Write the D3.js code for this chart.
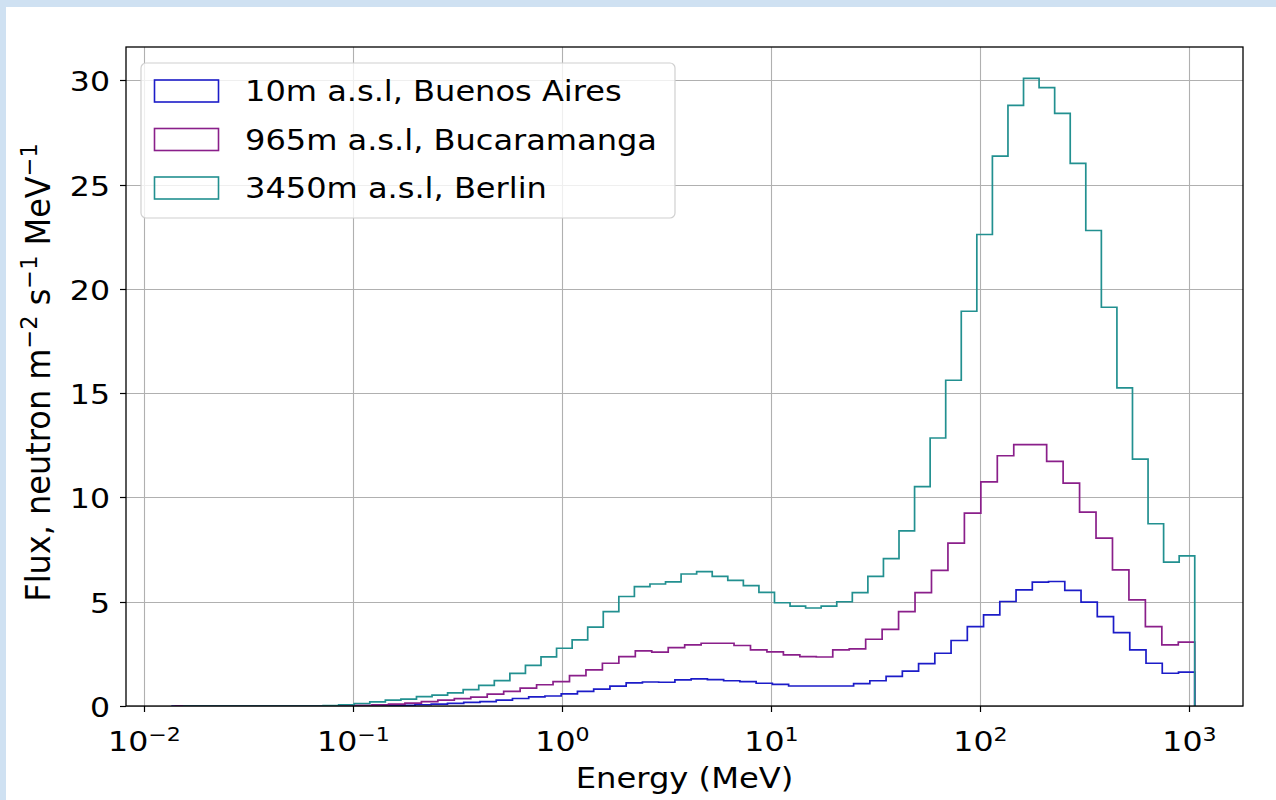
<!DOCTYPE html>
<html>
<head>
<meta charset="utf-8">
<script src="https://cdn.jsdelivr.net/npm/d3@7"></script>
<style>
  html, body { margin: 0; padding: 0; background: #cfe1f2; }
  svg { display: block; }
</style>
</head>
<body>
<svg id="chart" width="1276" height="800"></svg>
<script>
// ---- data -------------------------------------------------------------
// Each histogram uses log-spaced energy bins that end at E_MAX (MeV).
const E_MAX = 1064.7;
const seriesNames = ["10m a.s.l, Buenos Aires", "965m a.s.l, Bucaramanga", "3450m a.s.l, Berlin"];
const seriesColors = ["#1c1cc8", "#8a1f8a", "#229090"];
const binWidthsLog10 = [0.07769, 0.07869, 0.07444];   // bin width in decades

// neutron flux per bin, m^-2 s^-1 MeV^-1
const fluxBuenosAires = [
  0, 0, 0, 0, 0, 0, 0, 0, 0, 0, 0, 0, 0,
  0.01, 0.03, 0.06, 0.09, 0.13, 0.17, 0.21, 0.28, 0.36, 0.44, 0.48, 0.58,
  0.70, 0.81, 0.95, 1.11, 1.15, 1.14, 1.25, 1.30, 1.26, 1.21, 1.17, 1.09,
  1.04, 0.96, 0.96, 0.96, 0.96, 1.07, 1.21, 1.42, 1.67, 2.03, 2.53, 3.14,
  3.81, 4.37, 5.01, 5.57, 5.94, 5.97, 5.54, 4.98, 4.29, 3.52, 2.69, 2.05,
  1.57, 1.62
];
const fluxBucaramanga = [
  0, 0, 0, 0, 0, 0, 0, 0, 0, 0,
  0.01, 0.03, 0.05, 0.09, 0.14, 0.21, 0.28, 0.35, 0.43, 0.57, 0.70, 0.86,
  1.02, 1.17, 1.46, 1.73, 2.05, 2.37, 2.64, 2.58, 2.80, 2.93, 3.01, 3.01,
  2.90, 2.69, 2.60, 2.45, 2.37, 2.35, 2.69, 2.74, 3.20, 3.67, 4.53, 5.44,
  6.50, 7.81, 9.25, 10.75, 12.00, 12.53, 12.53, 11.73, 10.69, 9.30, 8.05,
  6.53, 5.09, 3.81, 2.93, 3.06
];
const fluxBerlin = [
  0, 0, 0, 0, 0, 0, 0, 0, 0,
  0.02, 0.06, 0.12, 0.20, 0.28, 0.33, 0.45, 0.52, 0.63, 0.79, 0.99, 1.22,
  1.56, 1.95, 2.36, 2.77, 3.17, 3.78, 4.53, 5.25, 5.72, 5.85, 5.95, 6.33,
  6.44, 6.22, 6.02, 5.77, 5.45, 4.95, 4.79, 4.70, 4.79, 5.00, 5.44, 6.22,
  7.07, 8.40, 10.52, 12.85, 15.62, 18.93, 22.61, 26.37, 28.80, 30.10,
  29.65, 28.42, 26.02, 22.80, 19.12, 15.25, 11.84, 8.74, 6.90, 7.20
];
const seriesValues = [fluxBuenosAires, fluxBucaramanga, fluxBerlin];

const yTicks = [0, 5, 10, 15, 20, 25, 30];
const xTickExponents = [-2, -1, 0, 1, 2, 3];
const xTickLabels = ["\u22122", "\u22121", "0", "1", "2", "3"];

// ---- layout -------------------------------------------------------------
const W = 1276, H = 800;
const plot = { left: 126, right: 1243, top: 47, bottom: 706 };
const FONT = "'DejaVu Sans', sans-serif";
const SX = 1.17;            // horizontal stretch applied to text

const svg = d3.select("#chart");
svg.append("rect").attr("x", 6).attr("y", 7).attr("width", W - 6).attr("height", H - 7).attr("fill", "#ffffff");

const x = d3.scaleLog()
  .domain([Math.pow(10, -2.084), Math.pow(10, 3.258)])
  .range([plot.left, plot.right]);
const y = d3.scaleLinear().domain([0, 31.6]).range([plot.bottom, plot.top]);

function stretchedText(parent, px, py, anchor, size, sx = SX) {
  return parent.append("text")
    .attr("transform", `translate(${px},${py}) scale(${sx},1)`)
    .attr("text-anchor", anchor)
    .attr("font-family", FONT)
    .attr("font-size", size)
    .attr("fill", "#000");
}

// grid
const grid = svg.append("g").attr("stroke", "#b0b0b0").attr("stroke-width", 1.1);
xTickExponents.forEach(e => {
  const gx = Math.round(x(Math.pow(10, e))) + 0.5;
  grid.append("line").attr("x1", gx).attr("x2", gx).attr("y1", plot.top).attr("y2", plot.bottom);
});
yTicks.forEach(t => {
  const gy = Math.round(y(t)) + 0.5;
  grid.append("line").attr("x1", plot.left).attr("x2", plot.right).attr("y1", gy).attr("y2", gy);
});

// histograms (step outlines)
svg.append("clipPath").attr("id", "plotClip")
  .append("rect").attr("x", plot.left).attr("y", plot.top)
  .attr("width", plot.right - plot.left).attr("height", plot.bottom - plot.top);

const line = d3.line().x(d => x(d[0])).y(d => y(d[1]));
seriesValues.forEach((vals, s) => {
  const n = vals.length, w = binWidthsLog10[s];
  const edges = d3.range(n + 1).map(i => E_MAX * Math.pow(10, -(n - i) * w));
  const pts = [[edges[0], 0]];
  vals.forEach((v, i) => { pts.push([edges[i], v]); pts.push([edges[i + 1], v]); });
  pts.push([edges[n], 0]);
  svg.append("path")
    .attr("clip-path", "url(#plotClip)")
    .attr("d", line(pts))
    .attr("fill", "none")
    .attr("stroke", seriesColors[s])
    .attr("stroke-width", 1.7)
    .attr("stroke-linejoin", "miter");
});

// spines
svg.append("rect")
  .attr("x", plot.left).attr("y", plot.top)
  .attr("width", plot.right - plot.left).attr("height", plot.bottom - plot.top)
  .attr("fill", "none").attr("stroke", "#000").attr("stroke-width", 1.3);

// y axis ticks and labels
const yAxis = svg.append("g");
yTicks.forEach(t => {
  const ty = Math.round(y(t)) + 0.5;
  yAxis.append("line").attr("x1", plot.left - 6).attr("x2", plot.left).attr("y1", ty).attr("y2", ty)
    .attr("stroke", "#000").attr("stroke-width", 1.2);
  stretchedText(yAxis, plot.left - 16, ty + 10, "end", 27).text(t);
});

// x axis ticks and labels
const xAxis = svg.append("g");
xTickExponents.forEach((e, i) => {
  const tx = Math.round(x(Math.pow(10, e))) + 0.5;
  xAxis.append("line").attr("x1", tx).attr("x2", tx).attr("y1", plot.bottom).attr("y2", plot.bottom + 6)
    .attr("stroke", "#000").attr("stroke-width", 1.2);
  const t = stretchedText(xAxis, tx, 751, "middle", 27);
  t.append("tspan").text("10");
  t.append("tspan").attr("font-size", "0.7em").attr("dy", "-0.55em").text(xTickLabels[i]);
});

// axis titles
stretchedText(svg, (plot.left + plot.right) / 2, 788, "middle", 28, 1.15).text("Energy (MeV)");

const yTitle = svg.append("text")
  .attr("transform", `translate(50,${(plot.top + plot.bottom) / 2 - 4}) rotate(-90) scale(1,1.06)`)
  .attr("text-anchor", "middle")
  .attr("font-family", FONT)
  .attr("font-size", 32)
  .attr("fill", "#000");
yTitle.append("tspan").text("Flux, neutron m");
yTitle.append("tspan").attr("font-size", "0.7em").attr("dy", "-0.55em").text("\u22122");
yTitle.append("tspan").attr("dy", "0.385em").text(" s");
yTitle.append("tspan").attr("font-size", "0.7em").attr("dy", "-0.55em").text("\u22121");
yTitle.append("tspan").attr("dy", "0.385em").text(" MeV");
yTitle.append("tspan").attr("font-size", "0.7em").attr("dy", "-0.55em").text("\u22121");

// legend
const legend = svg.append("g");
legend.append("rect")
  .attr("x", 141).attr("y", 63).attr("width", 534).attr("height", 155).attr("rx", 5)
  .attr("fill", "#ffffff").attr("fill-opacity", 0.8)
  .attr("stroke", "#d0d0d0").attr("stroke-width", 1.2);
seriesNames.forEach((name, i) => {
  const cy = 91 + i * 48.5;
  legend.append("rect")
    .attr("x", 154.5).attr("y", cy - 11).attr("width", 64).attr("height", 22)
    .attr("fill", "none").attr("stroke", seriesColors[i]).attr("stroke-width", 1.6);
  stretchedText(legend, 245, cy + 10, "start", 28, 1.145).text(name);
});
</script>
</body>
</html>
